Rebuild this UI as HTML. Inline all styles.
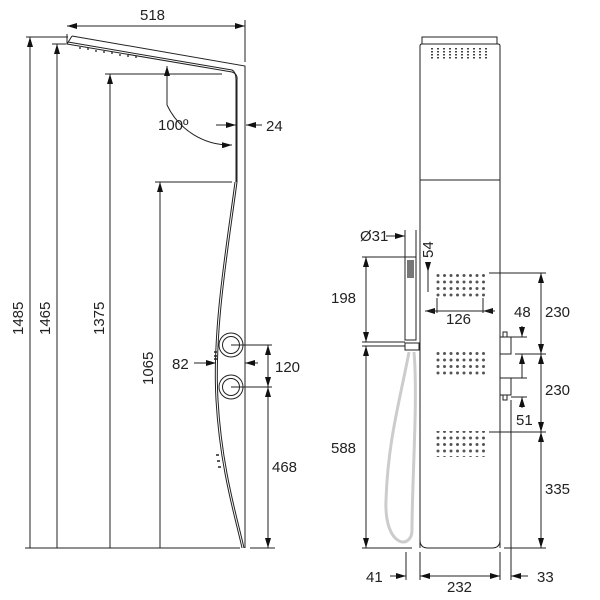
<!DOCTYPE html>
<html><head><meta charset="utf-8"><style>
html,body{margin:0;padding:0;background:#fff}
svg{display:block}
text{font-family:"Liberation Sans",sans-serif;font-size:15px;fill:#222}
</style></head><body>
<svg width="600" height="600" viewBox="0 0 600 600" xmlns="http://www.w3.org/2000/svg">
<defs>
<marker id="a" viewBox="0 0 10 6" refX="10" refY="3" markerWidth="10" markerHeight="6" markerUnits="userSpaceOnUse" orient="auto-start-reverse"><path d="M0,0L10,3L0,6z" fill="#111"/></marker>
<pattern id="dots" width="6.5" height="6.5" patternUnits="userSpaceOnUse"><circle cx="2.5" cy="2.5" r="1.5" fill="#555"/></pattern>
</defs>
<g stroke="#222" stroke-width="1" fill="none">
<path d="M72,36 L245,66 L245,548"/>
<path d="M72,36 L67,44 L232,72 Q238,74 237,80 L237,182"/>
<path d="M68,42 L232,70 Q236,72 236,80 L236,182"/>
<path d="M237,182 C228,250 214,330 218,400 C222,470 238,520 244,548"/>
<path d="M235,182 C226,250 212,330 216,400 C220,470 236,520 242,548"/>
<g stroke-width="1.3"><path d="M80,47v2M88,48v2M96,50v2M104,51v2M112,52v2M120,54v2M128,55v2M136,56v2"/></g>
<circle cx="231" cy="345" r="12"/><circle cx="231" cy="345" r="8.5"/>
<circle cx="231" cy="387" r="12"/><circle cx="231" cy="387" r="8.5"/>
<path d="M214,352h3M214,356h3M214,359h3M216,455h3M217,461h3M218,467h3" stroke-width="1.5"/>
<path d="M67,26H245" marker-start="url(#a)" marker-end="url(#a)"/>
<path d="M245,20V62M67,34V44"/>
<path d="M26,37H68M52,44H66M105,74H222M155,182H232M25,548H240M250,548H275"/>
<path d="M30,548V37" marker-end="url(#a)"/>
<path d="M57,548V44" marker-end="url(#a)"/>
<path d="M110,548V74" marker-end="url(#a)"/>
<path d="M160,548V182" marker-end="url(#a)"/>
<path d="M167,105 A70,70 0 0 0 232,145" marker-end="url(#a)"/>
<path d="M167,105V66" marker-end="url(#a)"/>
<path d="M216,125H236" marker-end="url(#a)"/>
<path d="M262,125H246" marker-end="url(#a)"/>
<path d="M194,363H216" marker-end="url(#a)"/>
<path d="M258,363H245" marker-end="url(#a)"/>
<path d="M231,345H272M231,387H272"/>
<path d="M268,365V345" marker-end="url(#a)"/>
<path d="M268,365V387" marker-end="url(#a)"/>
<path d="M268,468V387" marker-end="url(#a)"/>
<path d="M268,468V548" marker-end="url(#a)"/>
<rect x="422" y="37" width="75" height="7"/>
<path d="M420,548V46Q420,44 422,44H498Q500,44 500,46V548"/>
<path d="M420,540Q420,548 428,548H492Q500,548 500,540"/>
<path d="M420,180H500"/>
<g stroke-width="2" stroke="#444" stroke-dasharray="1.5 1.5"><path d="M432,48v12M438,48v12M444,48v12M450,48v12M456,48v12M462,48v12M468,48v12M474,48v12M480,48v12M486,48v12"/></g>
<rect x="405" y="257" width="11" height="83"/>
<rect x="407" y="260" width="7" height="18" fill="#777" stroke="none"/>
<rect x="405" y="343" width="14" height="7"/>
<path d="M409,352 C400,400 388,440 386,500 C384,548 412,550 412,530 C412,480 418,400 414,352" stroke="#ccc" stroke-width="3"/>
<rect x="435" y="271" width="52" height="26" fill="url(#dots)" stroke="none"/>
<rect x="435" y="351" width="52" height="26" fill="url(#dots)" stroke="none"/>
<rect x="435" y="431" width="52" height="26" fill="url(#dots)" stroke="none"/>
<rect x="500" y="337" width="11" height="17"/><rect x="503" y="332" width="4" height="5"/>
<rect x="500" y="378" width="11" height="17"/><rect x="503" y="395" width="4" height="5"/>
<path d="M405,230V257M416,230V257"/>
<path d="M386,236H405" marker-end="url(#a)"/>
<path d="M362,257H405M362,342H405M362,346H405M362,548H412"/>
<path d="M366,300V257" marker-end="url(#a)"/><path d="M366,300V342" marker-end="url(#a)"/>
<path d="M366,446V346" marker-end="url(#a)"/><path d="M366,446V548" marker-end="url(#a)"/>
<path d="M428,262V272" marker-end="url(#a)"/><path d="M428,292V272"/>
<path d="M437,298V313M483,298V313"/>
<path d="M425,311H437" marker-start="url(#a)"/>
<path d="M483,311H495" marker-start="url(#a)"/>
<path d="M425,311H495"/>
<path d="M489,273H546M515,354H546M489,432H546M504,548H546"/>
<path d="M541,312V273" marker-end="url(#a)"/><path d="M541,312V354" marker-end="url(#a)"/>
<path d="M541,392V354" marker-end="url(#a)"/><path d="M541,392V432" marker-end="url(#a)"/>
<path d="M541,490V432" marker-end="url(#a)"/><path d="M541,490V548" marker-end="url(#a)"/>
<path d="M511,337H527M511,378H527M511,397H527"/>
<path d="M522,326V337" marker-end="url(#a)"/>
<path d="M522,366V354" marker-end="url(#a)"/>
<path d="M522,366V378"/>
<path d="M522,408V397" marker-end="url(#a)"/>
<path d="M406,552V580M420,552V580M500,552V580M511,400V580"/>
<path d="M390,576H406" marker-end="url(#a)"/>
<path d="M420,576H500" marker-start="url(#a)" marker-end="url(#a)"/>
<path d="M528,576H511" marker-end="url(#a)"/>
</g>
<text x="140" y="20">518</text>
<text transform="translate(23,335) rotate(-90)">1485</text>
<text transform="translate(50,335) rotate(-90)">1465</text>
<text transform="translate(104,335) rotate(-90)">1375</text>
<text transform="translate(153,385) rotate(-90)">1065</text>
<text x="158" y="130">100º</text>
<text x="266" y="131">24</text>
<text x="172" y="369">82</text>
<text x="275" y="372">120</text>
<text x="272" y="472">468</text>
<text x="360" y="241">Ø31</text>
<text transform="translate(433,258) rotate(-90)">54</text>
<text x="331" y="303">198</text>
<text x="446" y="324">126</text>
<text x="514" y="317">48</text>
<text x="545" y="317">230</text>
<text x="545" y="395">230</text>
<text x="516" y="425">51</text>
<text x="331" y="453">588</text>
<text x="545" y="494">335</text>
<text x="366" y="582">41</text>
<text x="447" y="592">232</text>
<text x="537" y="582">33</text>
</svg>
</body></html>
